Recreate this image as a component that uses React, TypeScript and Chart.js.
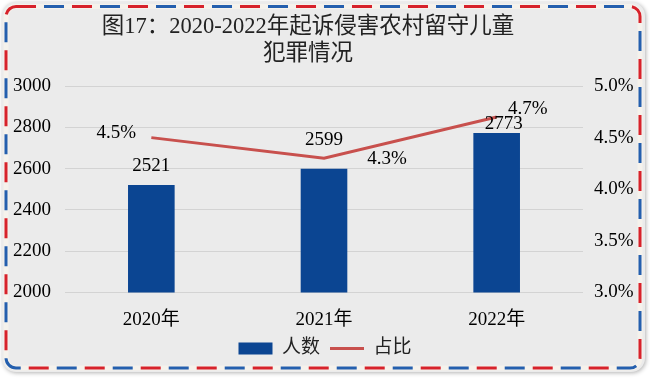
import React, { useEffect, useRef } from 'react';
import { Chart, registerables } from 'chart.js';

Chart.register(...registerables);

// ---- data ----
const categories = ['2020年', '2021年', '2022年'];
const personCounts = [2521, 2599, 2773];
const ratioPercent = [4.5, 4.3, 4.7];
const leftTicks = [2000, 2200, 2400, 2600, 2800, 3000];
const rightTicks = [3.0, 3.5, 4.0, 4.5, 5.0];
const titleLines = ['图17：2020-2022年起诉侵害农村留守儿童', '犯罪情况'];
const seriesNames = ['人数', '占比'];

// ---- label placement (style) ----
const barLabelOffsets = [[0, -19], [0, -29], [7, -8.5]];
const lineLabelOffsets = [[-35, -5], [63, 1], [31, -8]];

const FONT = "'Liberation Serif', 'Noto Sans CJK SC', serif";
const BAR_COLOR = '#0b4592';
const LINE_COLOR = '#c8504d';

function roundPath(ctx: CanvasRenderingContext2D, x: number, y: number, w: number, h: number, r: number) {
  ctx.beginPath();
  ctx.moveTo(x + r, y);
  ctx.lineTo(x + w - r, y);
  ctx.arcTo(x + w, y, x + w, y + r, r);
  ctx.lineTo(x + w, y + h - r);
  ctx.arcTo(x + w, y + h, x + w - r, y + h, r);
  ctx.lineTo(x + r, y + h);
  ctx.arcTo(x, y + h, x, y + h - r, r);
  ctx.lineTo(x, y + r);
  ctx.arcTo(x, y, x + r, y, r);
  ctx.closePath();
}

const framePlugin = {
  id: 'airmailFrame',
  beforeDraw(chart: any) {
    const ctx: CanvasRenderingContext2D = chart.ctx;
    ctx.save();
    ctx.fillStyle = '#ffffff';
    ctx.fillRect(0, 0, chart.width, chart.height);
    ctx.shadowColor = 'rgba(0,0,0,0.3)';
    ctx.shadowBlur = 4;
    ctx.shadowOffsetX = 1;
    ctx.shadowOffsetY = 1;
    roundPath(ctx, 2, 2, 643, 370, 14);
    ctx.fillStyle = '#ebebeb';
    ctx.fill();
    ctx.shadowColor = 'transparent';
    ctx.shadowBlur = 0;
    ctx.shadowOffsetX = 0;
    ctx.shadowOffsetY = 0;
    roundPath(ctx, 6, 6.5, 634, 361.5, 10);
    ctx.lineWidth = 5;
    ctx.strokeStyle = '#f5f2ec';
    ctx.stroke();
    ctx.lineWidth = 3;
    ctx.setLineDash([20, 36]);
    ctx.strokeStyle = '#d7222b';
    ctx.lineDashOffset = 0;
    ctx.stroke();
    ctx.strokeStyle = '#245fae';
    ctx.lineDashOffset = -28;
    ctx.stroke();
    ctx.setLineDash([]);

    // title
    ctx.fillStyle = '#222222';
    ctx.textAlign = 'center';
    ctx.textBaseline = 'middle';
    ctx.font = `22.5px ${FONT}`;
    ctx.fillText(titleLines[0], 308, 27);
    ctx.fillText(titleLines[1], 308, 54);
    ctx.restore();
  },
};

const valueLabelPlugin = {
  id: 'valueLabels',
  afterDatasetsDraw(chart: any) {
    const ctx: CanvasRenderingContext2D = chart.ctx;
    ctx.save();
    ctx.font = `19px ${FONT}`;
    ctx.fillStyle = '#000000';
    ctx.textAlign = 'center';
    ctx.textBaseline = 'middle';
    const barMeta = chart.getDatasetMeta(0);
    barMeta.data.forEach((el: any, i: number) => {
      const [dx, dy] = barLabelOffsets[i];
      ctx.fillText(String(personCounts[i]), el.x + dx, el.y + dy);
    });
    const lineMeta = chart.getDatasetMeta(1);
    lineMeta.data.forEach((el: any, i: number) => {
      const [dx, dy] = lineLabelOffsets[i];
      ctx.fillText(ratioPercent[i].toFixed(1) + '%', el.x + dx, el.y + dy);
    });
    ctx.restore();
  },
};

export default function App() {
  const canvasRef = useRef<HTMLCanvasElement | null>(null);

  useEffect(() => {
    if (!canvasRef.current) return;
    const tickFont = { family: FONT, size: 19 };
    const chart = new Chart(canvasRef.current, {
      type: 'bar',
      data: {
        labels: categories,
        datasets: [
          {
            type: 'bar',
            label: seriesNames[0],
            data: personCounts,
            backgroundColor: BAR_COLOR,
            borderWidth: 0,
            categoryPercentage: 1,
            barPercentage: 0.27,
            yAxisID: 'y',
            pointStyle: 'rect',
          } as any,
          {
            type: 'line',
            label: seriesNames[1],
            data: ratioPercent,
            borderColor: LINE_COLOR,
            backgroundColor: LINE_COLOR,
            borderWidth: 3,
            pointRadius: 0,
            pointHoverRadius: 0,
            tension: 0,
            yAxisID: 'y1',
            pointStyle: 'line',
          } as any,
        ],
      },
      options: {
        responsive: false,
        animation: false,
        devicePixelRatio: 1,
        layout: { padding: { left: 10, right: 10, top: 86, bottom: 10 } },
        plugins: {
          title: { display: false },
          tooltip: { enabled: false },
          legend: {
            display: true,
            position: 'bottom',
            labels: {
              usePointStyle: true,
              pointStyleWidth: 34,
              boxHeight: 12,
              padding: 10,
              color: '#222222',
              font: { family: FONT, size: 19 },
            },
          },
        },
        scales: {
          x: {
            grid: { display: false, drawTicks: false },
            border: { display: false },
            ticks: { font: tickFont, color: '#000000', padding: 16 },
            afterFit: (s: any) => { s.height = 36.5; },
          },
          y: {
            position: 'left',
            min: leftTicks[0],
            max: leftTicks[leftTicks.length - 1],
            afterBuildTicks: (s: any) => { s.ticks = leftTicks.map((v) => ({ value: v })); },
            ticks: { font: tickFont, color: '#000000', padding: 14, callback: (v: any) => String(v) },
            grid: { color: '#d3d3d3', lineWidth: 1, drawTicks: false },
            border: { display: false },
            afterFit: (s: any) => { s.width = 55; },
          },
          y1: {
            position: 'right',
            min: rightTicks[0],
            max: rightTicks[rightTicks.length - 1],
            afterBuildTicks: (s: any) => { s.ticks = rightTicks.map((v) => ({ value: v })); },
            ticks: {
              font: tickFont,
              color: '#000000',
              padding: 11,
              callback: (v: any) => Number(v).toFixed(1) + '%',
            },
            grid: { drawOnChartArea: false, drawTicks: false },
            border: { display: false },
            afterFit: (s: any) => { s.width = 57; },
          },
        },
      } as any,
      plugins: [framePlugin, valueLabelPlugin],
    });
    return () => chart.destroy();
  }, []);

  return (
    <div style={{ position: 'fixed', left: 0, top: 0, width: 650, height: 378 }}>
      <canvas ref={canvasRef} width={650} height={378} style={{ display: 'block' }} />
    </div>
  );
}
